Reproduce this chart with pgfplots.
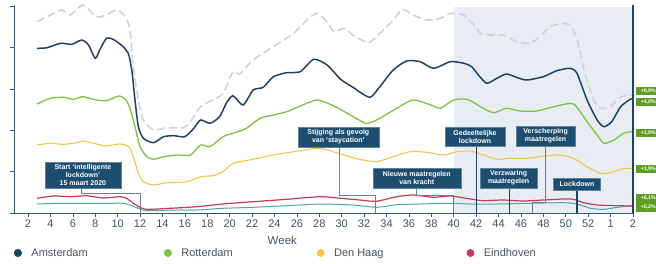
\documentclass[border=0pt]{standalone}
\usepackage{fontspec}
\setmainfont{Liberation Sans}
\usepackage{pgfplots}
\pgfplotsset{compat=1.18}
\definecolor{navy}{HTML}{1E4264}
\definecolor{boxc}{HTML}{1D4E6F}
\definecolor{grayd}{HTML}{D0D3D6}
\definecolor{greenc}{HTML}{7DC243}
\definecolor{yellowc}{HTML}{F7C54A}
\definecolor{redc}{HTML}{C93A55}
\definecolor{tealc}{HTML}{4BA8A3}
\definecolor{shade}{HTML}{E8EDF3}
\definecolor{rgreen}{HTML}{5E9E25}
\definecolor{axisc}{HTML}{2D5F7F}
\definecolor{tickc}{HTML}{3F5266}
\definecolor{connc}{HTML}{6F7F8F}
\tikzset{
 box/.style={fill=boxc, draw=boxc!70!white, line width=0.4pt, text=white, align=center,
   font=\fontsize{7}{8}\selectfont\bfseries, inner sep=1pt},
 rlab/.style={fill=rgreen, text=white, anchor=west, xshift=3pt, inner sep=0.8pt,
   minimum width=24pt, minimum height=8.5pt, font=\fontsize{5.2}{5.5}\selectfont\bfseries},
 conn/.style={connc, line width=0.6pt},
 connd/.style={navy, line width=1.1pt},
}
\begin{document}
\begin{tikzpicture}
\begin{axis}[name=ax, scale only axis, width=619pt, height=208pt,
 xmin=0.75, xmax=56, ymin=0, ymax=208,
 axis lines*=left, axis line style={draw=axisc, line width=0.7pt},
 axis on top,
 xtick={2,4,...,56},
 xticklabels={2,4,6,8,10,12,14,16,18,20,22,24,26,28,30,32,34,36,38,40,42,44,46,48,50,52,1,2},
 ytick={0,41.4,82.8,124.2,165.6,207}, yticklabels={},
 tick align=outside, major tick length=3.5pt,
 tick style={draw=axisc, line width=0.6pt},
 ticklabel style={font=\fontsize{11}{12}\selectfont, text=tickc},
 /pgf/number format/assume math mode=true,
 clip=false,
 legend columns=4,
 legend style={at={(axis cs:0.72,-40)}, anchor=west, draw=none, fill=none, inner sep=0pt,
   font=\fontsize{11}{12}\selectfont, text=tickc},
 legend image code/.code={\fill (0pt,0pt) circle (3.3pt);},
]
% lockdown period shading
\addplot[fill=shade, draw=none, forget plot] coordinates {(40,206) (56,206)} \closedcycle;

% gray dashed
\addplot[grayd, line width=1.6pt, dash pattern=on 8pt off 4pt, smooth, tension=0.4, forget plot] coordinates {
(2.8,191.3) (4.0,198) (5.0,203) (5.75,198) (6.9,208) (8.1,196.3) (9.0,198) (9.9,203) (10.7,196.3)
(11.1,183) (11.4,146.3) (11.85,113) (12.3,93) (13.2,83) (14.4,85.3) (15.9,85.3) (16.6,93)
(17.4,106.3) (18.5,113) (19.4,119.7) (20.3,141.3) (20.9,139) (22.1,153) (23.9,166.3)
(25.7,179.7) (26.9,193) (27.8,199.7) (28.7,191.3) (29.3,181.3) (30.2,184.7) (31.0,178)
(32.4,170.3) (33.4,179.7) (34.6,193) (35.4,203.7) (36.4,198) (37.6,193) (38.8,194.7)
(39.7,199.7) (40.9,198) (41.8,188) (42.4,179.7) (43.25,178) (44.4,178) (45.6,171.3)
(46.8,169.7) (47.7,176.3) (48.6,186.3) (49.8,189.7) (50.5,186.3) (51.1,169.7) (51.7,139.7)
(52.5,113) (53.1,104.7) (54.0,106.3) (54.7,114.7) (55.5,118) (55.9,118)};

% Amsterdam
\addplot[navy, line width=1.5pt, smooth, tension=0.4] coordinates {
(2.8,164.7) (3.7,165.3) (4.9,169.7) (5.9,168.7) (6.8,173) (7.4,168) (8.0,154.7) (8.4,163)
(9.0,174.7) (9.6,173.7) (10.5,166.3) (11.0,158) (11.3,139.7) (11.55,113) (11.85,86.3)
(12.3,74.7) (13.2,70.3) (14.1,76.3) (15.0,77.3) (16.0,76.3) (16.8,84.7) (17.4,93)
(18.25,89.7) (19.1,96.3) (19.7,109.7) (20.3,117.3) (21.2,108) (22.1,123) (23.0,125.7)
(23.9,136.3) (25.1,140.3) (26.3,141.3) (27.5,153.7) (28.7,148) (29.9,133.7) (31.0,125.7)
(32.5,115.7) (33.4,126.3) (34.6,143) (35.8,152) (37.0,151.3) (38.2,144.7) (39.7,151.3)
(40.9,149.7) (41.6,146.3) (42.2,138) (42.95,129.7) (43.85,134.7) (44.7,139) (45.6,135.7)
(46.5,133) (48.0,136.3) (49.2,142.3) (50.4,144.7) (51.0,139.7) (51.9,113) (52.8,93)
(53.4,86.3) (54.1,91.3) (54.9,106.3) (55.75,113.7) (56,114)};
\addlegendentry{\makebox[138pt][l]{\hspace{7.5pt}Amsterdam}}

% Rotterdam
\addplot[greenc, line width=1.3pt, smooth, tension=0.4] coordinates {
(2.8,109) (4.0,114.7) (5.15,115.7) (6.05,113.7) (6.9,116.3) (8.1,113) (9.0,112.3) (10.1,117)
(10.7,113.7) (11.1,104.7) (11.55,86.3) (12.0,66.3) (12.6,56.3) (13.2,53.7) (14.1,56.3)
(15.3,58) (16.5,58) (17.4,68) (18.25,66.3) (19.4,76.3) (20.3,79.7) (21.5,84.7) (22.7,94.7)
(23.9,98) (25.1,101.3) (26.3,107) (27.8,113) (29.3,107) (30.5,99.7) (32.2,89.7) (33.4,94.7)
(34.9,104.7) (36.4,113) (38.2,107) (38.8,104.7) (40.0,113) (41.2,113.7) (42.4,106.3)
(43.55,100.3) (44.7,104.7) (45.9,102) (47.4,102) (49.2,107) (50.7,109) (51.9,91.3)
(52.8,78) (53.4,69.7) (54.3,73) (55.15,79.7) (55.9,81.3)};
\addlegendentry{\makebox[141pt][l]{\hspace{7.5pt}Rotterdam}}

% Den Haag
\addplot[yellowc, line width=1.1pt, smooth, tension=0.4] coordinates {
(2.8,68) (4.0,69.7) (5.15,68.7) (6.35,70.3) (6.9,72) (8.1,69) (9.0,67) (10.2,69) (11.0,66.3)
(11.4,56.3) (11.85,39.7) (12.3,31.3) (13.2,28) (14.4,30.3) (16.2,31.3) (17.4,36.3)
(18.5,37.3) (19.4,41.3) (20.3,49.7) (22.1,53.7) (23.9,58) (26.3,62.3) (28.1,64.7) (29.9,59)
(31.6,53.7) (33.1,51.3) (34.6,56.3) (36.1,61.3) (37.6,60.7) (39.1,58) (40.3,61.3) (41.5,62)
(42.65,58) (43.85,53.7) (45.0,54.7) (46.5,54.7) (48.0,57) (49.5,58) (50.7,54.7) (51.9,46.3)
(53.1,39.7) (54.0,40.3) (55.0,44) (55.9,44.7)};
\addlegendentry{\makebox[138pt][l]{\hspace{7.5pt}Den Haag}}

% teal (no legend entry)
\addplot[tealc, line width=1.0pt, smooth, tension=0.4, forget plot] coordinates {
(2.8,9) (4.9,9.7) (7.2,9.7) (9.3,9.7) (10.5,9.7) (11.1,8) (12.0,4) (12.6,2.3) (15.3,3)
(17.1,3) (19.4,4.7) (22.1,5.7) (25.1,7.3) (28.1,9) (31.0,8) (33.1,5.7) (34.9,8.3) (37.0,9)
(39.7,9.7) (41.5,9) (43.85,9) (46.8,9.7) (49.8,10.3) (51.0,9) (52.2,4.7) (53.4,3.7)
(54.6,5.7) (55.9,7.3)};

% Eindhoven
\addplot[redc, line width=1.2pt, smooth, tension=0.4] coordinates {
(2.8,14.7) (4.3,17) (5.75,16.3) (7.2,17.3) (8.7,15) (10.2,16.3) (10.8,14.7) (11.4,9.7)
(12.0,5.7) (12.6,3.7) (14.7,4.7) (17.1,6.3) (19.4,9) (22.1,11.3) (25.1,13.7) (28.1,16.3)
(29.9,14.7) (31.6,13) (33.1,11.7) (34.9,16.3) (36.4,18) (38.2,15.7) (39.7,17) (41.5,14)
(42.65,12.3) (44.4,13) (46.2,12) (48.0,13) (49.8,14) (50.7,13.7) (51.6,10.3) (52.8,8)
(54.6,7.3) (55.9,7)};
\addlegendentry{\hspace{7.5pt}Eindhoven}

% right edge line
\addplot[navy, line width=1.6pt, forget plot] coordinates {(56,0) (56,208)};

% annotation connectors
\addplot[conn, forget plot] coordinates {(6.8,25) (6.8,20) (12,20) (12,0)};
\addplot[conn, forget plot] coordinates {(29.8,66) (29.8,18) (33,18) (33,0)};
\addplot[conn, forget plot] coordinates {(36.7,25) (36.7,18) (40,18) (40,0)};
\addplot[connd, forget plot] coordinates {(42,67) (42,0)};
\addplot[connd, forget plot] coordinates {(45,25) (45,0)};
\addplot[conn, forget plot] coordinates {(48.2,67) (48.2,11) (47,11) (47,0)};
\addplot[connd, forget plot] coordinates {(51,23) (51,0)};

% annotation boxes
\node[box, minimum width=76pt, minimum height=26pt] at (axis cs:6.9,38) {Start ‘intelligente\\lockdown’\\15 maart 2020};
\node[box, minimum width=81pt, minimum height=20pt] at (axis cs:29.7,76) {Stijging als gevolg\\van ‘staycation’};
\node[box, minimum width=88pt, minimum height=20pt] at (axis cs:36.7,35) {Nieuwe maatregelen\\van kracht};
\node[box, minimum width=60pt, minimum height=19pt] at (axis cs:41.9,76.5) {Gedeeltelijke\\lockdown};
\node[box, minimum width=57pt, minimum height=20pt] at (axis cs:44.9,35) {Verzwaring\\maatregelen};
\node[box, minimum width=59pt, minimum height=20pt] at (axis cs:48.2,77) {Verscherping\\maatregelen};
\node[box, minimum width=47pt, minimum height=12pt] at (axis cs:51,29) {Lockdown};

% right-hand labels
\node[rlab] at (axis cs:56,122) {+0,9\%};
\node[rlab] at (axis cs:56,111) {+4,0\%};
\node[rlab] at (axis cs:56,80) {+1,9\%};
\node[rlab] at (axis cs:56,44) {+1,9\%};
\node[rlab] at (axis cs:56,14.5) {+6,1\%};
\node[rlab] at (axis cs:56,5.5) {+5,2\%};

% x label
\node[font=\fontsize{11.5}{12}\selectfont, text=tickc] at (axis cs:24.7,-27) {Week};
\end{axis}
\pgfresetboundingbox
\path ([shift={(-14pt,-50pt)}]ax.south west) rectangle ([shift={(23pt,5pt)}]ax.north east);
\end{tikzpicture}
\end{document}
